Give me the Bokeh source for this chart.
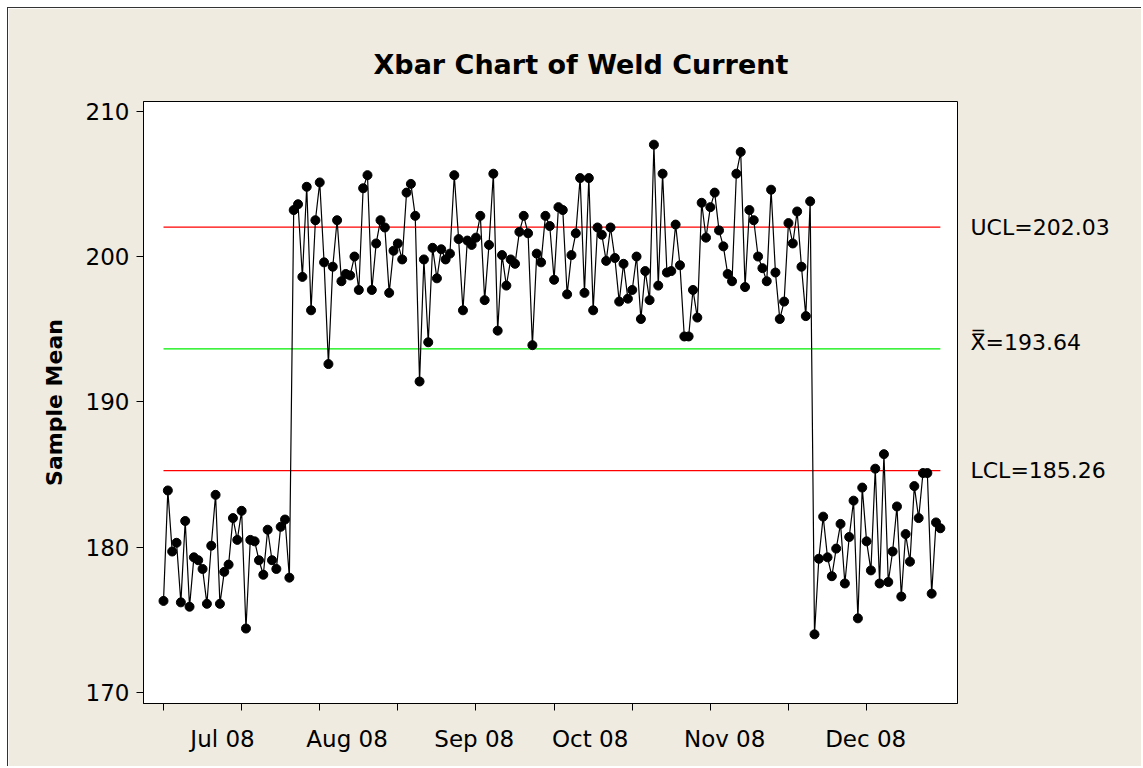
from bokeh.plotting import figure
from bokeh.models import Range1d, FixedTicker, LinearAxis
from bokeh.embed import file_html
from bokeh.resources import INLINE

# ---------------- data ----------------
chart_title = "Xbar Chart of Weld Current"
y_axis_label = "Sample Mean"

phase_jul = [176.3, 183.9, 179.7, 180.3, 176.2, 181.8, 175.9, 179.3, 179.1, 178.5,
             176.1, 180.1, 183.6, 176.1, 178.3, 178.8, 182.0, 180.5, 182.5, 174.4,
             180.5, 180.4, 179.1, 178.1, 181.2, 179.1, 178.5, 181.4, 181.9, 177.9]

phase_mid = [203.2, 203.6, 198.6, 204.8, 196.3, 202.5, 205.1, 199.6, 192.6, 199.3,
             202.5, 198.3, 198.8, 198.7, 200.0, 197.7, 204.7, 205.6, 197.7, 200.9,
             202.5, 202.0, 197.5, 200.4, 200.9, 199.8, 204.4, 205.0, 202.8, 191.4,
             199.8, 194.1, 200.6, 198.5, 200.5, 199.8, 200.2, 205.6, 201.2, 196.3,
             201.1, 200.8, 201.3, 202.8, 197.0, 200.8, 205.7, 194.9, 200.1, 198.0,
             199.8, 199.5, 201.7, 202.8, 201.6, 193.9, 200.2, 199.6, 202.8, 202.1,
             198.4, 203.4, 203.2, 197.4, 200.1, 201.6, 205.4, 197.5, 205.4, 196.3,
             202.0, 201.5, 199.7, 202.0, 199.9, 196.9, 199.5, 197.1, 197.7, 200.0,
             195.7, 199.0, 197.0, 207.7, 198.0, 205.7, 198.9, 199.0, 202.2, 199.4,
             194.5, 194.5, 197.7, 195.8, 203.7, 201.3, 203.4, 204.4, 201.8, 200.7,
             198.8, 198.3, 205.7, 207.2, 197.9, 203.2, 202.5, 200.0, 199.2, 198.3,
             204.6, 198.9, 195.7, 196.9, 202.3, 200.9, 203.1, 199.3, 195.9, 203.8]

phase_dec = [174.0, 179.2, 182.1, 179.3, 178.0, 179.9, 181.6, 177.5, 180.7, 183.2,
             175.1, 184.1, 180.4, 178.4, 185.4, 177.5, 186.4, 177.6, 179.7, 182.8,
             176.6, 180.9, 179.0, 184.2, 182.0, 185.1, 185.1, 176.8, 181.7, 181.3]

sample_mean = phase_jul + phase_mid + phase_dec
sample = list(range(1, len(sample_mean) + 1))

ucl = 202.03
center = 193.64
lcl = 185.26
limit_texts = ["UCL=202.03", "X\u033F=193.64", "LCL=185.26"]

month_labels = ["Jul 08", "Aug 08", "Sep 08", "Oct 08", "Nov 08", "Dec 08"]
month_pos = [14.6, 43.3, 72.6, 99.3, 130.3, 162.8]
tick_samples = list(range(1, 181, 18))
y_ticks = [170, 180, 190, 200, 210]

# ---------------- styling ----------------
BG = "#EFEBE1"
FONT = "DejaVu Sans"
FS = "23px"

p = figure(width=1134, height=759,
           x_range=Range1d(-3.61, 183.95), y_range=Range1d(169.24, 210.67),
           output_backend="svg", toolbar_location=None,
           min_border_left=135, min_border_right=185,
           min_border_top=93, min_border_bottom=64)
p.margin = (7, 0, 0, 7)
p.styles = {"border-top": "1px solid #333333", "border-left": "1px solid #333333"}

p.border_fill_color = BG
p.background_fill_color = "white"
p.outline_line_color = "black"
p.outline_line_width = 1
p.xgrid.visible = False
p.ygrid.visible = False

# title
p.title.text = chart_title
p.title.align = "left"
p.title.offset = 230
p.title.text_font = FONT
p.title.text_font_size = "27px"
p.title.text_font_style = "bold"
p.title.text_color = "black"
p.title.standoff = 44

# x axis: minor ticks every 18 samples, month labels as major labels
p.xaxis.ticker = FixedTicker(ticks=month_pos, minor_ticks=tick_samples)
p.xaxis.major_label_overrides = {pos: lab for pos, lab in zip(month_pos, month_labels)}
p.xaxis.major_tick_out = 0
p.xaxis.major_tick_in = 0
p.xaxis.minor_tick_out = 7
p.xaxis.minor_tick_in = 0
p.xaxis.minor_tick_line_color = "black"
p.xaxis.major_label_standoff = 15
p.xaxis.major_label_text_font = FONT
p.xaxis.major_label_text_font_size = FS
p.xaxis.major_label_text_color = "black"
p.xaxis.axis_line_color = "black"

# y axis
p.yaxis.ticker = FixedTicker(ticks=y_ticks)
p.yaxis.major_tick_out = 7
p.yaxis.major_tick_in = 0
p.yaxis.major_tick_line_color = "black"
p.yaxis.minor_tick_line_color = None
p.yaxis.major_label_standoff = 7
p.yaxis.major_label_text_font = FONT
p.yaxis.major_label_text_font_size = FS
p.yaxis.major_label_text_color = "black"
p.yaxis.axis_line_color = "black"
p.yaxis.axis_label = y_axis_label
p.yaxis.axis_label_text_font = FONT
p.yaxis.axis_label_text_font_size = "22px"
p.yaxis.axis_label_text_font_style = "bold"
p.yaxis.axis_label_text_color = "black"
p.yaxis.axis_label_standoff = 16

# right-side axis carrying the control-limit labels
xbar_tick = center + 0.41
p.extra_y_ranges = {"limits": Range1d(p.y_range.start, p.y_range.end)}
rax = LinearAxis(y_range_name="limits", ticker=FixedTicker(ticks=[ucl, xbar_tick, lcl]))
rax.major_label_overrides = {ucl: limit_texts[0], xbar_tick: limit_texts[1], lcl: limit_texts[2]}
rax.major_tick_out = 0
rax.major_tick_in = 0
rax.minor_tick_line_color = None
rax.major_tick_line_color = None
rax.axis_line_color = None
rax.major_label_standoff = 13
rax.major_label_text_font = FONT
rax.major_label_text_font_size = "22px"
rax.major_label_text_color = "black"
p.add_layout(rax, "right")

# control limits
first, last = sample[0], sample[-1]
p.line([first, last], [ucl, ucl], line_color="#FF0000", line_width=1.2)
p.line([first, last], [lcl, lcl], line_color="#FF0000", line_width=1.2)
p.line([first, last], [center, center], line_color="#00EE00", line_width=1.2)

# data
p.line(sample, sample_mean, line_color="black", line_width=1.2)
p.scatter(sample, sample_mean, size=9, fill_color="black", line_color="black")

open("out.html", "w").write(file_html(p, INLINE, title=chart_title))
